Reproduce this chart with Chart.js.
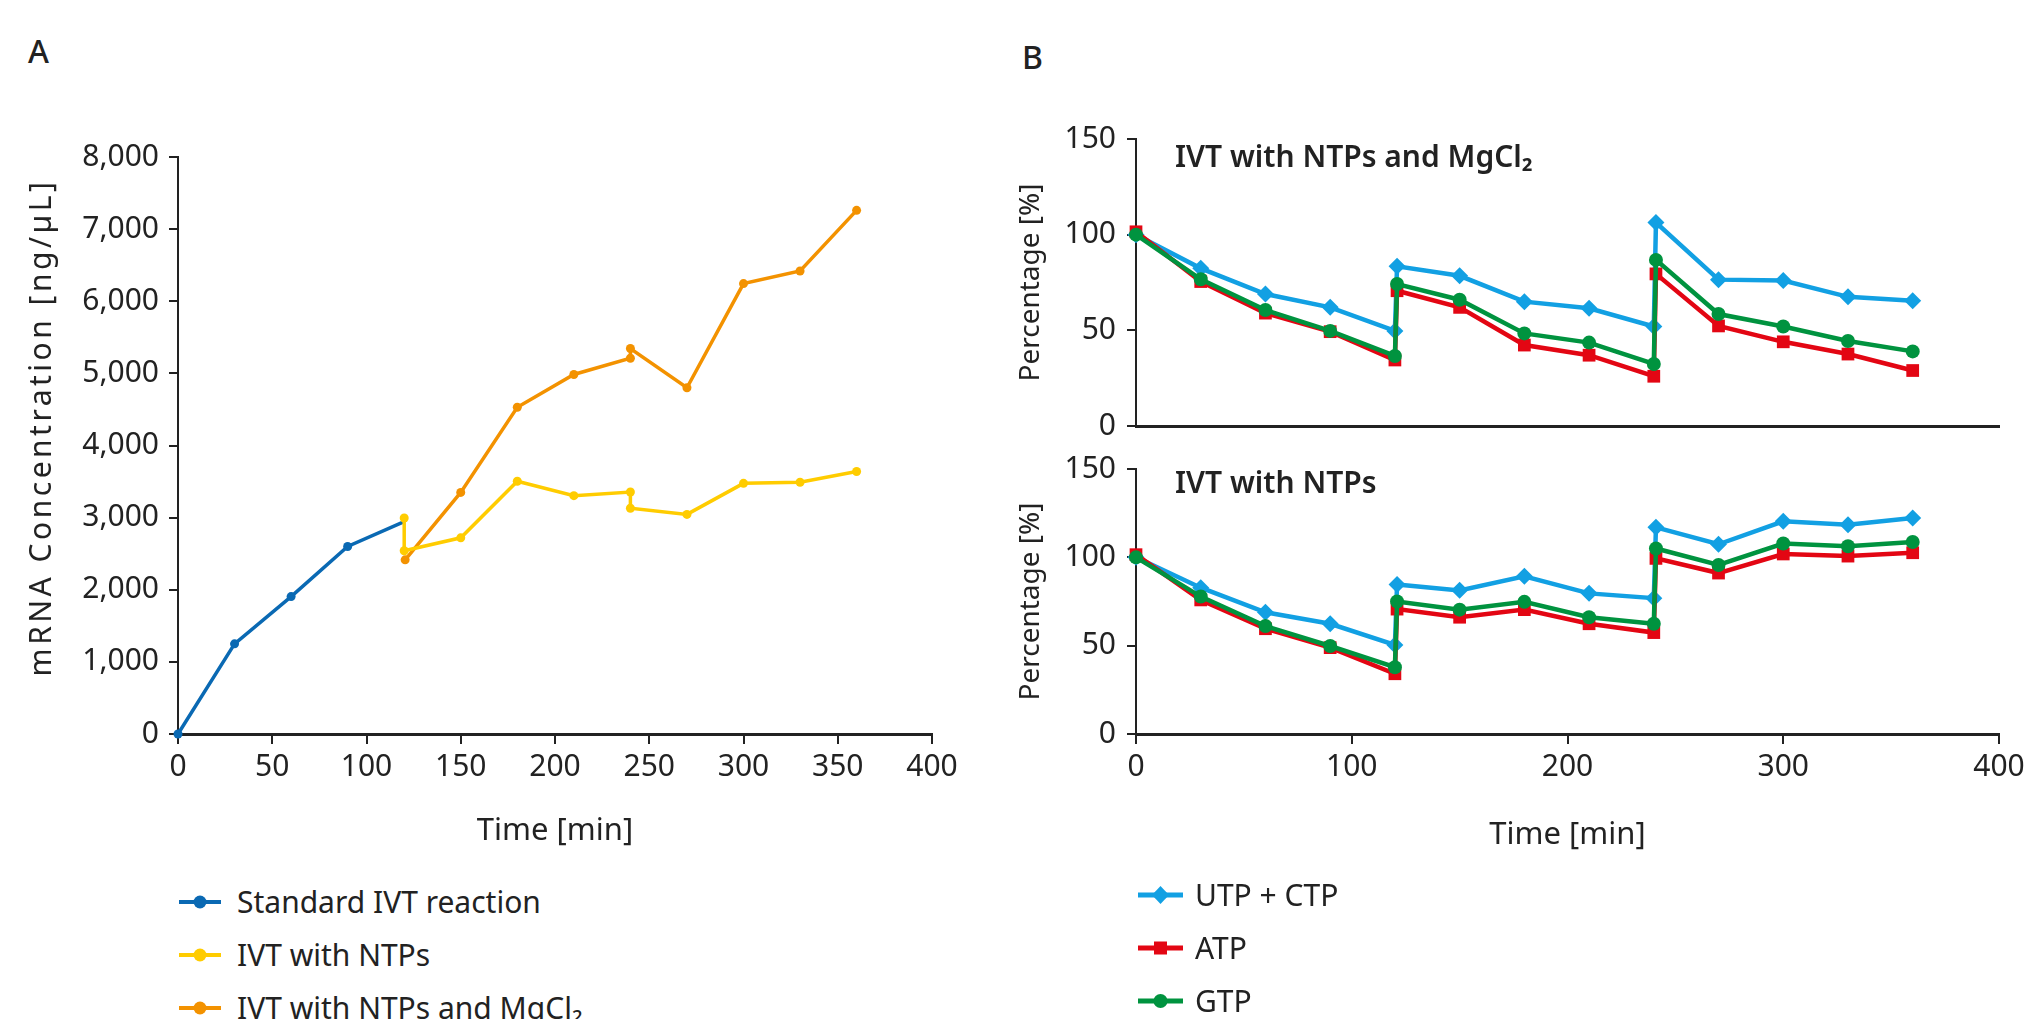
<!DOCTYPE html>
<html>
<head>
<meta charset="utf-8">
<script src="https://cdn.jsdelivr.net/npm/chart.js@4.4.1/dist/chart.umd.min.js"></script>
<style>
  html, body { margin: 0; padding: 0; background: #fff; }
  body { width: 2033px; height: 1019px; position: relative; overflow: hidden;
         font-family: 'Noto Sans', sans-serif; color: #222; }
  canvas { position: absolute; }
  .panel-label { position: absolute; font-size: 32px; font-weight: 500; line-height: 1; }
  .plot-title { position: absolute; font-size: 30px; font-weight: 600; line-height: 1; white-space: nowrap; }
  .legend-row { position: absolute; display: flex; align-items: center; height: 40px;
                font-size: 30px; line-height: 1; white-space: nowrap; }
  .legend-row svg { display: block; }
</style>
</head>
<body>

<div class="panel-label" style="left:28px; top:35px;">A</div>
<div class="panel-label" style="left:1022px; top:41px;">B</div>

<canvas id="chart-a" width="1000" height="880" style="left:0; top:0;"></canvas>
<canvas id="chart-b-top" width="1033" height="466" style="left:1000px; top:0;"></canvas>
<canvas id="chart-b-bottom" width="1033" height="440" style="left:1000px; top:440px;"></canvas>

<div class="plot-title" style="left:1175px; top:141px;">IVT with NTPs and MgCl₂</div>
<div class="plot-title" style="left:1175px; top:467px;">IVT with NTPs</div>

<div id="legend-a"></div>
<div id="legend-b"></div>

<script>
// Panel A - mRNA concentration [ng/µL] over time [min]
const timeStd = [0, 30, 60, 90, 120];
const concStd = [0, 1250, 1905, 2600, 2945];

const timeNtp = [120, 120, 150, 180, 210, 240, 240, 270, 300, 330, 360];
const concNtp = [2995, 2540, 2720, 3505, 3305, 3355, 3130, 3045, 3475, 3490, 3640];

const timeMg = [120.5, 150, 180, 210, 240, 240, 270, 300, 330, 360];
const concMg = [2415, 3350, 4530, 4985, 5210, 5345, 4800, 6245, 6420, 7260];

// Panel B - remaining nucleotides [%]
const timeB = [0, 30, 60, 90, 120, 121, 150, 180, 210, 240, 241, 270, 300, 330, 360];

const mgUtpCtp = [100, 82.4, 69, 62, 49.7, 83.5, 78.5, 65, 61.5, 52, 106.3, 76.5, 76, 67.5, 65.5];
const mgAtp    = [101.5, 75.5, 59, 49.3, 34.5, 70.7, 62, 42.3, 37, 26, 79.5, 52.3, 44, 37.6, 29];
const mgGtp    = [100, 76.7, 60.6, 49.7, 36.6, 74.2, 66, 48.4, 43.6, 32.4, 86.8, 58.5, 52, 44.4, 39];

const ntpUtpCtp = [100, 82.8, 68.9, 62.4, 50.4, 84.6, 81.3, 89.3, 79.6, 76.9, 117, 107.4, 120.4, 118.5, 122.2];
const ntpAtp    = [101.5, 75.9, 59.6, 48.9, 34.1, 70.7, 66.1, 70.4, 62.4, 57.4, 99.4, 91.1, 101.9, 100.7, 102.6];
const ntpGtp    = [100, 77.8, 61.1, 49.8, 37.8, 75, 70.4, 74.8, 66.1, 62.4, 105, 95.7, 107.8, 106.3, 108.7];

const xTicksA = [0, 50, 100, 150, 200, 250, 300, 350, 400];
const yTicksA = [0, 1000, 2000, 3000, 4000, 5000, 6000, 7000, 8000];
const xTicksB = [0, 100, 200, 300, 400];
const yTicksB = [0, 50, 100, 150];

const seriesA = ['Standard IVT reaction', 'IVT with NTPs', 'IVT with NTPs and MgCl₂'];
const seriesB = ['UTP + CTP', 'ATP', 'GTP'];

const COLORS = {
    std: '#0a69b3',
    ntp: '#ffcc00',
    mg: '#f39200',
    utp: '#12a0e3',
    atp: '#e30613',
    gtp: '#00933f'
};
const INK = '#222';

Chart.defaults.font.family = "'Noto Sans', sans-serif";
Chart.defaults.font.size = 30;
Chart.defaults.color = INK;

// the y title of panel A is letter-spaced and sits a bit above the axis middle
const spacedTitle = {
    id: 'spacedTitle',
    afterLayout(chart, args, opts) {
        const scale = chart.scales.y;
        if (!opts.spacing || scale._spaced) return;
        const drawTitle = scale.drawTitle.bind(scale);
        scale.drawTitle = function () {
            this.ctx.save();
            this.ctx.letterSpacing = opts.spacing;
            this.ctx.translate(0, opts.shift || 0);
            drawTitle();
            this.ctx.restore();
        };
        scale._spaced = true;
    }
};

function points(xs, ys) {
    return xs.map((x, i) => ({ x: x, y: ys[i] }));
}

function fixedTicks(values) {
    return scale => {
        scale.ticks = values.map(v => ({ value: v }));
    };
}

function xAxis(ticks, opts) {
    return {
        type: 'linear',
        min: ticks[0],
        max: ticks[ticks.length - 1],
        afterBuildTicks: fixedTicks(ticks),
        afterFit: s => { s.height = opts.height; },
        border: { display: true, color: INK, width: 3 },
        grid: { display: opts.showTicks, drawOnChartArea: false, color: INK, lineWidth: 2, tickLength: 10 },
        ticks: { display: opts.showTicks, padding: 5, autoSkip: false, maxRotation: 0 },
        title: opts.title ? {
            display: true, text: opts.title, font: { size: 31 },
            padding: { top: 0, bottom: opts.titlePad }
        } : { display: false }
    };
}

function yAxis(ticks, opts) {
    return {
        type: 'linear',
        min: ticks[0],
        max: ticks[ticks.length - 1],
        afterBuildTicks: fixedTicks(ticks),
        afterFit: s => { s.width = opts.width; },
        border: { display: true, color: INK, width: 2 },
        grid: { drawOnChartArea: false, color: INK, lineWidth: 2, tickLength: 9 },
        ticks: {
            padding: opts.tickPad, autoSkip: false,
            callback: v => v.toLocaleString('en-US')
        },
        title: {
            display: true, text: opts.title, font: { size: opts.titleSize },
            padding: { top: opts.titlePad, bottom: 0 }
        }
    };
}

function baseOptions(padding, scales, titleStyle) {
    return {
        responsive: false,
        animation: false,
        events: [],
        layout: { padding: padding },
        plugins: {
            legend: { display: false },
            tooltip: { enabled: false },
            spacedTitle: titleStyle || {}
        },
        scales: scales
    };
}

// Panel A
new Chart(document.getElementById('chart-a'), {
    type: 'line',
    plugins: [spacedTitle],
    data: {
        datasets: [
            {
                label: seriesA[1], data: points(timeNtp, concNtp), order: 0,
                borderColor: COLORS.ntp, backgroundColor: COLORS.ntp,
                borderWidth: 3.5, pointRadius: 4.5, pointBorderWidth: 0, clip: false
            },
            {
                label: seriesA[0], data: points(timeStd, concStd), order: 1,
                borderColor: COLORS.std, backgroundColor: COLORS.std,
                borderWidth: 3.5, pointRadius: [4.5, 4.5, 4.5, 4.5, 0], pointBorderWidth: 0, clip: false
            },
            {
                label: seriesA[2], data: points(timeMg, concMg), order: 2,
                borderColor: COLORS.mg, backgroundColor: COLORS.mg,
                borderWidth: 3.5, pointRadius: 4.5, pointBorderWidth: 0, clip: false
            }
        ]
    },
    options: baseOptions({ top: 157, right: 68, bottom: 0, left: 0 }, {
        x: xAxis(xTicksA, { height: 146, showTicks: true, title: 'Time [min]', titlePad: 30 }),
        y: yAxis(yTicksA, { width: 178, tickPad: 10, title: 'mRNA Concentration [ng/µL]', titleSize: 30, titlePad: 24 })
    }, { spacing: '3.5px', shift: -18 })
});

function nucleotideDatasets(utp, atp, gtp) {
    const common = { borderWidth: 4.5, pointBorderWidth: 0, clip: false, tension: 0 };
    return [
        Object.assign({ label: seriesB[0], data: points(timeB, utp), order: 2,
            borderColor: COLORS.utp, backgroundColor: COLORS.utp,
            pointStyle: 'rectRot', pointRadius: 8.5 }, common),
        Object.assign({ label: seriesB[1], data: points(timeB, atp), order: 1,
            borderColor: COLORS.atp, backgroundColor: COLORS.atp,
            pointStyle: 'rect', pointRadius: 9 }, common),
        Object.assign({ label: seriesB[2], data: points(timeB, gtp), order: 0,
            borderColor: COLORS.gtp, backgroundColor: COLORS.gtp,
            pointStyle: 'circle', pointRadius: 7 }, common)
    ];
}

// Panel B, top: IVT with NTPs and MgCl2
new Chart(document.getElementById('chart-b-top'), {
    type: 'line',
    data: { datasets: nucleotideDatasets(mgUtpCtp, mgAtp, mgGtp) },
    options: baseOptions({ top: 139, right: 34, bottom: 0, left: 0 }, {
        x: xAxis(xTicksB, { height: 40, showTicks: false }),
        y: yAxis(yTicksB, { width: 136, tickPad: 11, title: 'Percentage [%]', titleSize: 28, titlePad: 14 })
    })
});

// Panel B, bottom: IVT with NTPs
new Chart(document.getElementById('chart-b-bottom'), {
    type: 'line',
    data: { datasets: nucleotideDatasets(ntpUtpCtp, ntpAtp, ntpGtp) },
    options: baseOptions({ top: 27, right: 34, bottom: 0, left: 0 }, {
        x: xAxis(xTicksB, { height: 146, showTicks: true, title: 'Time [min]', titlePad: 26 }),
        y: yAxis(yTicksB, { width: 136, tickPad: 11, title: 'Percentage [%]', titleSize: 28, titlePad: 14 })
    })
});

// Legends (line + marker, one entry per row)
function markerSvg(color, shape, width, lineWidth) {
    const c = width / 2;
    let mark = '';
    if (shape === 'circle') mark = `<circle cx="${c}" cy="10" r="${lineWidth > 4 ? 7 : 6.5}" fill="${color}"/>`;
    if (shape === 'rect') mark = `<rect x="${c - 6.5}" y="3.5" width="13" height="13" fill="${color}"/>`;
    if (shape === 'rectRot') mark = `<polygon points="${c},1 ${c + 8.5},10 ${c},19 ${c - 8.5},10" fill="${color}"/>`;
    return `<svg width="${width}" height="20"><line x1="0" y1="10" x2="${width}" y2="10" stroke="${color}" stroke-width="${lineWidth}"/>${mark}</svg>`;
}

function buildLegend(el, labels, colors, shapes, left, rowsY, lineW, lineWidth, gap) {
    el.innerHTML = '';
    labels.forEach((label, i) => {
        const row = document.createElement('div');
        row.className = 'legend-row';
        row.style.left = left + 'px';
        row.style.top = (rowsY[i] - 20) + 'px';
        row.innerHTML = markerSvg(colors[i], shapes[i], lineW, lineWidth) +
            `<span style="margin-left:${gap}px">${label}</span>`;
        el.appendChild(row);
    });
}

buildLegend(document.getElementById('legend-a'), seriesA,
    [COLORS.std, COLORS.ntp, COLORS.mg], ['circle', 'circle', 'circle'],
    179, [902, 955, 1008], 42, 4, 16);

buildLegend(document.getElementById('legend-b'), seriesB,
    [COLORS.utp, COLORS.atp, COLORS.gtp], ['rectRot', 'rect', 'circle'],
    1138, [895, 948, 1001], 45, 5, 12);
</script>
</body>
</html>
